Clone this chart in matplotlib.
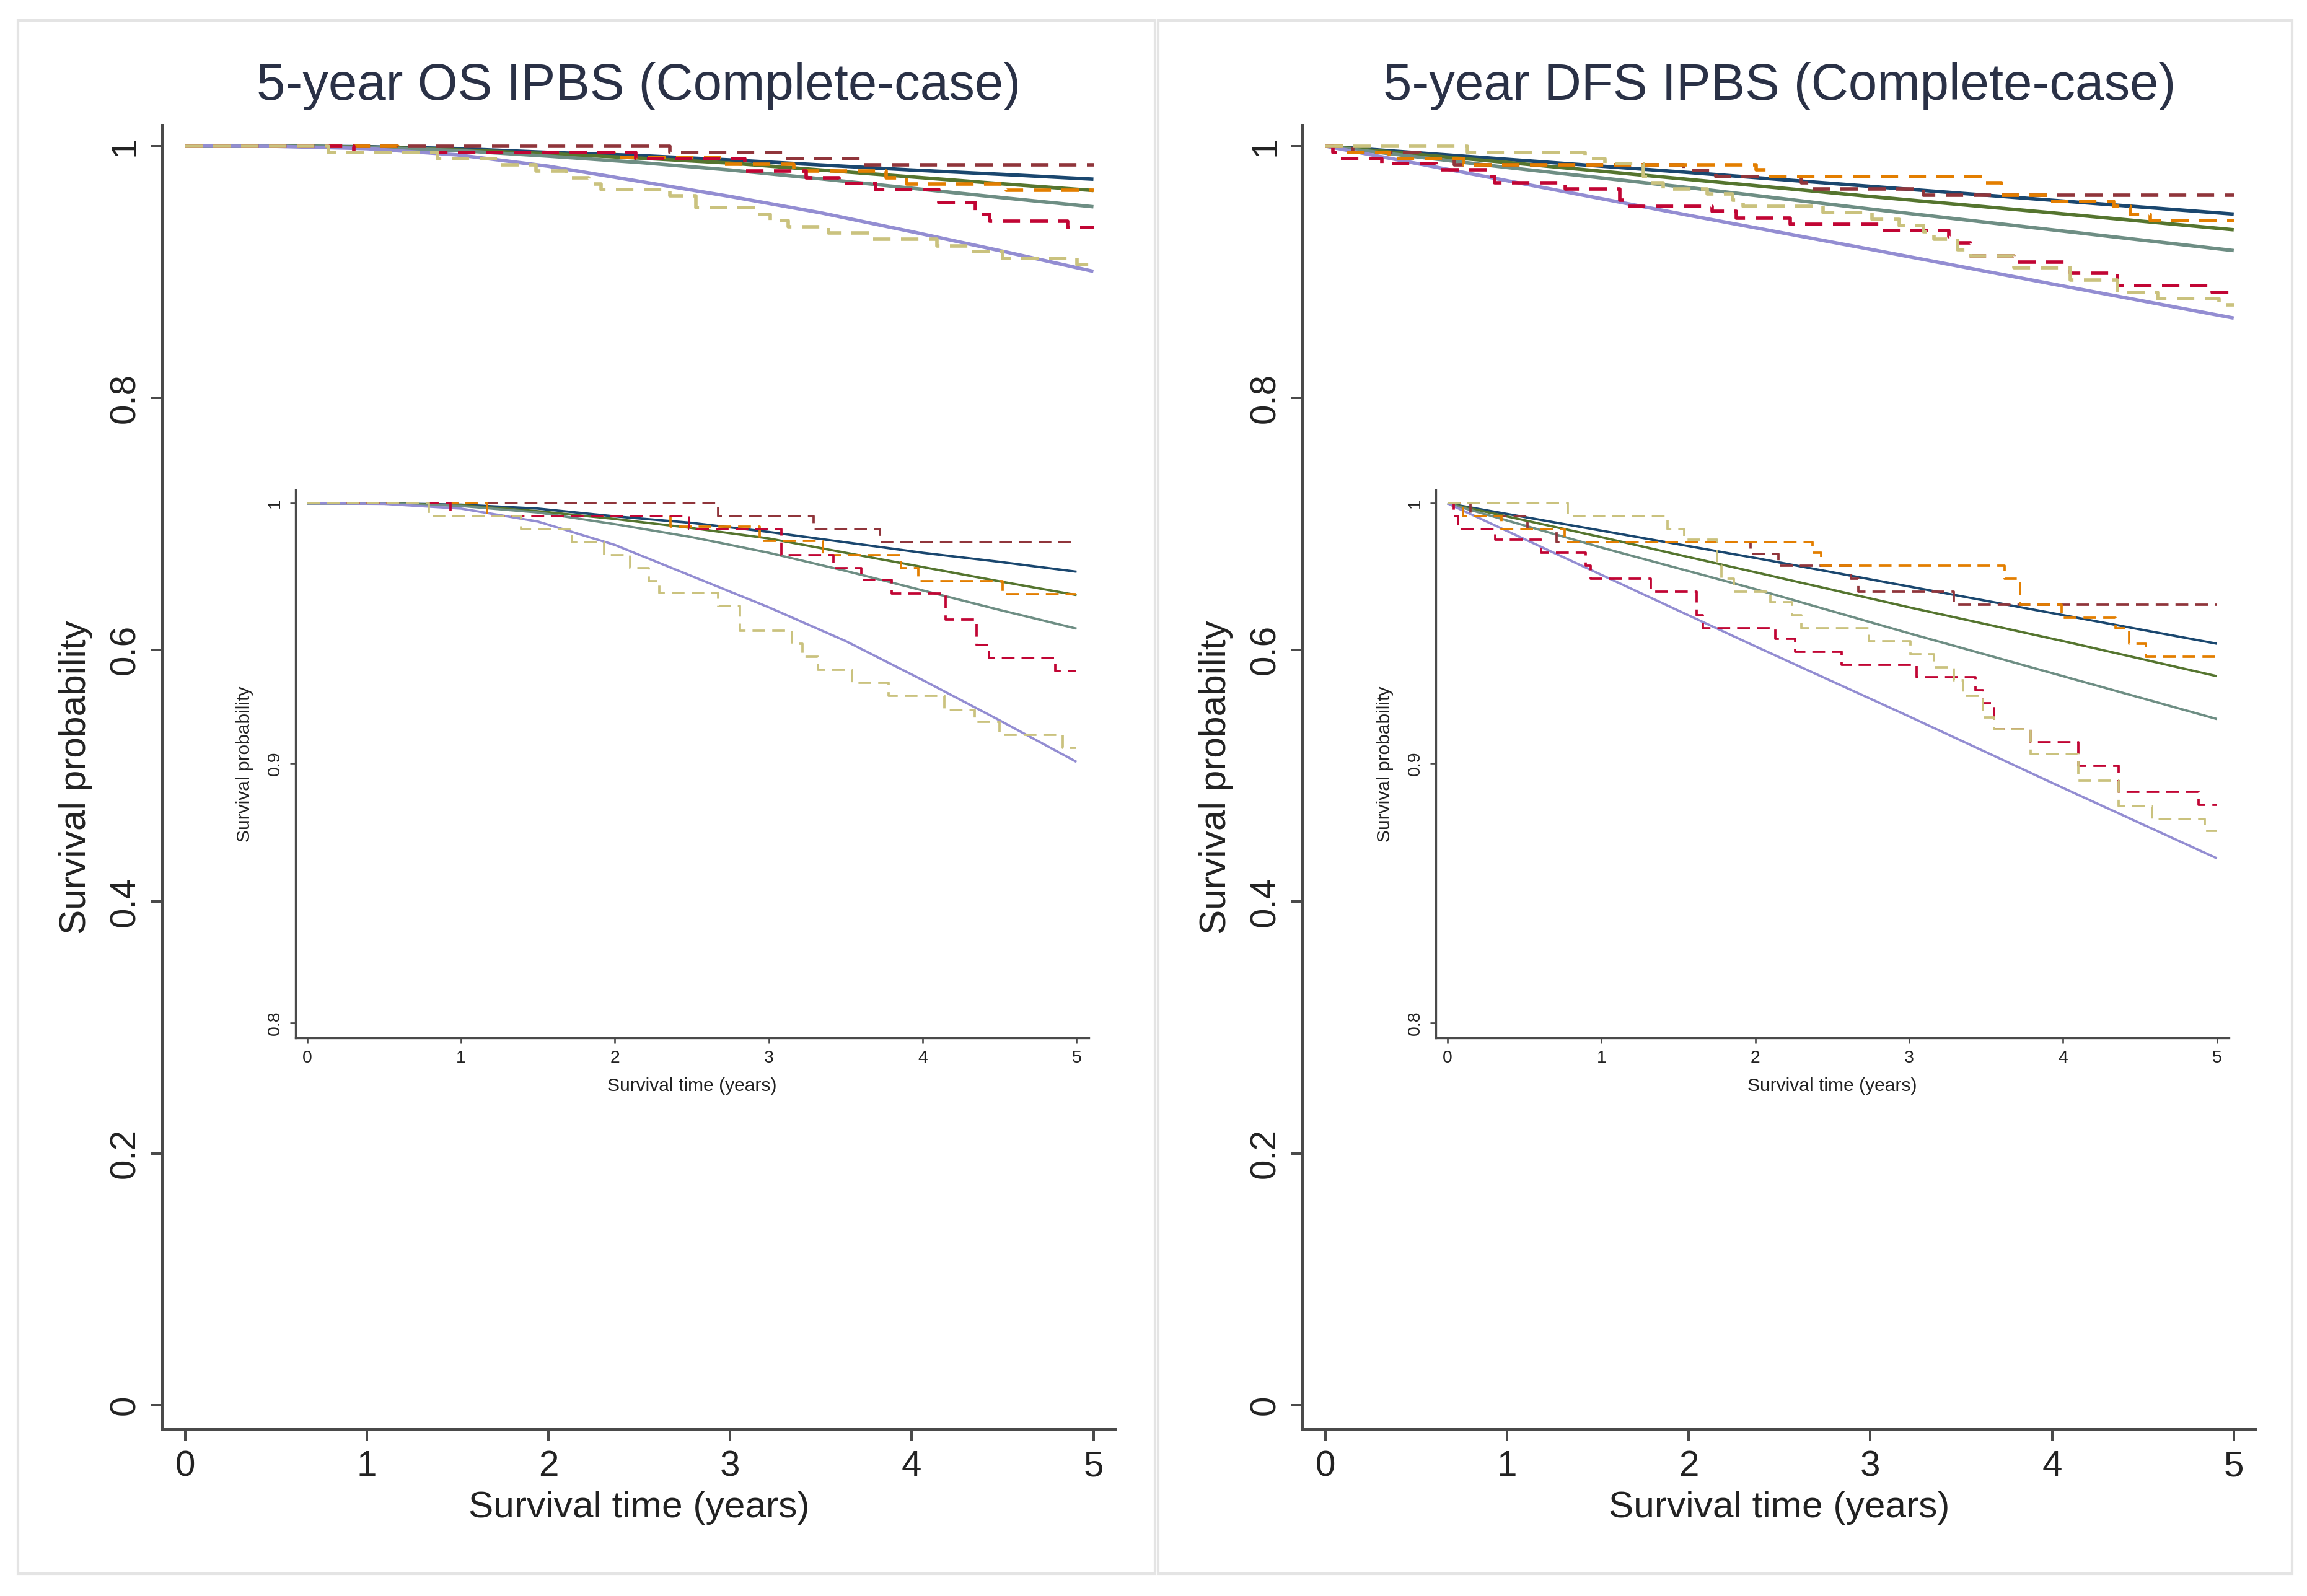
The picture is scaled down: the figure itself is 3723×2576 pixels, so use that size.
import matplotlib
matplotlib.use('Agg')
import matplotlib.pyplot as plt
from matplotlib.patches import Rectangle

plt.rcParams['font.family'] = ['Liberation Sans', 'DejaVu Sans']

# Stata s2color palette
navy = '#1a476f'
maroon = '#90353b'
forest = '#55752f'
dkorange = '#e37e00'
teal = '#6e8e84'
cranberry = '#c10534'
lavender = '#938dd2'
khaki = '#cac27e'

# ---------------- OS panel ----------------
fit_t = [0, 0.5, 1, 1.5, 2, 2.5, 3, 3.5, 4, 4.5, 5]
os_navy = [1, 1, 0.9995, 0.998, 0.995, 0.9925, 0.989, 0.985, 0.981, 0.9775, 0.9737]
os_forest = [1, 1, 0.9993, 0.997, 0.994, 0.9905, 0.9865, 0.981, 0.9755, 0.970, 0.9647]
os_teal = [1, 1, 0.999, 0.9965, 0.992, 0.987, 0.981, 0.974, 0.9665, 0.959, 0.9518]
os_lavender = [1, 0.9998, 0.998, 0.993, 0.984, 0.972, 0.960, 0.947, 0.932, 0.9165, 0.9005]

os_maroon_t = [0, 2.67, 3.29, 3.72, 5]
os_maroon_s = [1, 0.995, 0.990, 0.985, 0.985]
os_orange_t = [0, 1.17, 2.36, 2.94, 3.35, 3.86, 3.97, 4.52, 5]
os_orange_s = [1, 0.995, 0.991, 0.9855, 0.980, 0.975, 0.970, 0.965, 0.965]
os_cran_t = [0, 0.93, 2.48, 3.08, 3.42, 3.60, 3.80, 4.15, 4.35, 4.43, 4.86, 5]
os_cran_s = [1, 0.995, 0.990, 0.980, 0.975, 0.9706, 0.9654, 0.9553, 0.9456, 0.9404, 0.9355, 0.9355]
os_khaki_t = [0, 0.79, 1.39, 1.72, 1.93, 2.10, 2.22, 2.29, 2.67, 2.81, 3.15, 3.22, 3.32,
              3.54, 3.78, 4.14, 4.34, 4.50, 4.91, 5]
os_khaki_s = [1, 0.995, 0.990, 0.985, 0.980, 0.975, 0.970, 0.9655, 0.9605, 0.951, 0.946, 0.941,
              0.936, 0.931, 0.926, 0.9205, 0.916, 0.911, 0.906, 0.906]

# ---------------- DFS panel ----------------
dfs_fit_t = [0, 1, 2, 3, 4, 5]
dfs_navy = [1, 0.9895, 0.979, 0.968, 0.957, 0.946]
dfs_forest = [1, 0.987, 0.9735, 0.960, 0.947, 0.9335]
dfs_teal = [1, 0.983, 0.967, 0.950, 0.9335, 0.917]
dfs_lavender = [1, 0.9725, 0.945, 0.918, 0.8905, 0.8634]

dfs_maroon_t = [0, 0.15, 0.52, 0.71, 1.97, 2.15, 2.62, 2.67, 3.29, 5]
dfs_maroon_s = [1, 0.995, 0.990, 0.985, 0.9805, 0.976, 0.971, 0.966, 0.961, 0.961]
dfs_orange_t = [0, 0.10, 0.35, 0.76, 2.37, 2.43, 3.62, 3.72, 3.99, 4.34, 4.43, 4.54, 5]
dfs_orange_s = [1, 0.995, 0.990, 0.985, 0.981, 0.976, 0.971, 0.961, 0.956, 0.952, 0.946, 0.941, 0.941]
dfs_cran_t = [0, 0.04, 0.07, 0.31, 0.61, 0.90, 0.93, 1.32, 1.62, 1.66, 2.13, 2.26, 2.56, 3.05,
              3.43, 3.48, 3.55, 3.79, 4.10, 4.36, 4.88, 5]
dfs_cran_s = [1, 0.995, 0.990, 0.986, 0.981, 0.976, 0.971, 0.966, 0.957, 0.952, 0.948, 0.943,
              0.938, 0.933, 0.928, 0.923, 0.913, 0.908, 0.899, 0.889, 0.884, 0.884]
dfs_khaki_t = [0, 0.78, 1.43, 1.54, 1.75, 1.78, 1.86, 2.10, 2.24, 2.30, 2.74, 3.01, 3.16, 3.29,
               3.35, 3.48, 3.55, 3.79, 4.10, 4.36, 4.58, 4.92, 5]
dfs_khaki_s = [1, 0.995, 0.990, 0.986, 0.976, 0.971, 0.966, 0.962, 0.957, 0.952, 0.947, 0.942,
               0.937, 0.932, 0.926, 0.9175, 0.913, 0.9035, 0.8934, 0.8836, 0.8786, 0.874, 0.874]

titles = ['5-year OS IPBS (Complete-case)', '5-year DFS IPBS (Complete-case)']
main_yticks = [0, 0.2, 0.4, 0.6, 0.8, 1]
main_ylabels = ['0', '0.2', '0.4', '0.6', '0.8', '1']
inset_yticks = [0.8, 0.9, 1]
inset_ylabels = ['0.8', '0.9', '1']
xticks = [0, 1, 2, 3, 4, 5]

axcol = '#4a4a4a'
txtcol = '#222222'


def style_axes(ax, lw, tlen, fs, pad):
    for s in ['top', 'right']:
        ax.spines[s].set_visible(False)
    for s in ['left', 'bottom']:
        ax.spines[s].set_color(axcol)
        ax.spines[s].set_linewidth(lw)
    ax.tick_params(direction='out', length=tlen, width=lw * 0.8, color=axcol,
                   labelsize=fs, labelcolor=txtcol, pad=pad)
    ax.set_facecolor('none')


def draw_curves(ax, fits, kms, lw, dash):
    t, curves = fits
    for col, s in curves:
        ax.plot(t, s, color=col, lw=lw, solid_capstyle='butt')
    for col, kt, ks in kms:
        ax.step(kt, ks, where='post', color=col, lw=lw, linestyle=(0, dash))


def panel(x0, title, fits, kms):
    # main axes
    ax = fig.add_axes([x0, 0.1045, 0.413, 0.817])
    style_axes(ax, 1.2, 4.5, 14, 3.5)
    draw_curves(ax, fits, kms, 1.35, (5, 3))
    ax.set_xlim(-0.125, 5.12)
    ax.set_ylim(-0.019, 1.0165)
    ax.set_xticks(xticks)
    ax.set_yticks(main_yticks)
    ax.set_yticklabels(main_ylabels, rotation=90, va='center')
    ax.set_xlabel('Survival time (years)', fontsize=14.5, color=txtcol)
    ax.set_ylabel('Survival probability', fontsize=14.5, color=txtcol)
    ax.xaxis.set_label_coords(0.5, -0.047)
    ax.yaxis.set_label_coords(-0.073, 0.5)
    fig.text(x0 + 0.2065, 0.946, title, ha='center', va='center', fontsize=20, color='#2a3146')

    # inset
    ins = fig.add_axes([x0 + 0.0576, 0.3497, 0.3438, 0.3432])
    style_axes(ins, 0.8, 2.2, 6.8, 2.5)
    draw_curves(ins, fits, kms, 0.9, (5.5, 3))
    ins.set_xlim(-0.077, 5.077)
    ins.set_ylim(0.7943, 1.0051)
    ins.set_xticks(xticks)
    ins.set_yticks(inset_yticks)
    ins.set_yticklabels(inset_ylabels, rotation=90, va='center')
    ins.set_xlabel('Survival time (years)', fontsize=7.2, color=txtcol)
    ins.set_ylabel('Survival probability', fontsize=7.2, color=txtcol)
    ins.xaxis.set_label_coords(0.5, -0.072)
    ins.yaxis.set_label_coords(-0.053, 0.5)


fig = plt.figure(figsize=(3723 / 300, 2576 / 300), dpi=300)
fig.patch.set_facecolor('white')

for fx0, fx1 in [(0.0077, 0.5006), (0.502, 0.9936)]:
    fig.add_artist(Rectangle((fx0, 0.0139), fx1 - fx0, 0.9731, transform=fig.transFigure,
                             fill=False, edgecolor='#e4e4e4', lw=1.0))

os_fits = (fit_t, [(navy, os_navy), (forest, os_forest), (teal, os_teal), (lavender, os_lavender)])
os_kms = [(maroon, os_maroon_t, os_maroon_s), (dkorange, os_orange_t, os_orange_s),
          (cranberry, os_cran_t, os_cran_s), (khaki, os_khaki_t, os_khaki_s)]
dfs_fits = (dfs_fit_t, [(navy, dfs_navy), (forest, dfs_forest), (teal, dfs_teal), (lavender, dfs_lavender)])
dfs_kms = [(maroon, dfs_maroon_t, dfs_maroon_s), (dkorange, dfs_orange_t, dfs_orange_s),
           (cranberry, dfs_cran_t, dfs_cran_s), (khaki, dfs_khaki_t, dfs_khaki_s)]

panel(0.0704, titles[0], os_fits, os_kms)
panel(0.5647, titles[1], dfs_fits, dfs_kms)

fig.savefig('out.png', dpi=300)
